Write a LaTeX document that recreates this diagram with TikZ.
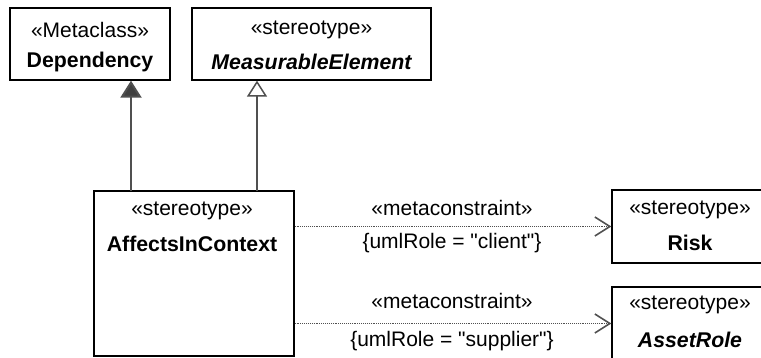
\documentclass[tikz,border=0pt]{standalone}
\usepackage{fontspec}
\setmainfont{Liberation Sans}[Ligatures=TeXOff]
\usetikzlibrary{arrows.meta}
\definecolor{conn}{HTML}{505050}
\definecolor{connfill}{HTML}{404040}
\tikzset{
  umlbox/.style={draw=black, line width=1.3pt, fill=white, rectangle, inner sep=0pt},
  txt/.style={font=\fontsize{21}{25}\selectfont, inner sep=0pt, anchor=center},
  txtb/.style={font=\fontsize{21.3}{25}\selectfont\bfseries, inner sep=0pt, anchor=center},
  txtbi/.style={font=\fontsize{21.3}{25}\selectfont\bfseries\itshape, inner sep=0pt, anchor=center},
  gen/.style={draw=conn, line width=2pt},
  dep/.style={draw=conn, line width=0.9pt, densely dotted},
}
\begin{document}
\begin{tikzpicture}[x=1pt,y=-1pt]
\useasboundingbox (0,0) rectangle (761,358);
\clip (0,0) rectangle (761,358);
% boxes
\node[umlbox, minimum width=160pt, minimum height=72pt] (depb) at (90,44) {};
\node[umlbox, minimum width=239pt, minimum height=72pt] (meas) at (311.5,44) {};
\node[umlbox, minimum width=200pt, minimum height=165pt] (aic) at (194,273.5) {};
\node[umlbox, minimum width=170pt, minimum height=73pt] (risk) at (697,226.5) {};
\node[umlbox, minimum width=170pt, minimum height=73pt] (asset) at (697,323.5) {};
% texts
\node[txt] (t1) at (90,30) {«Metaclass»};
\node[txtb] (t2) at (90,62) {Dependency};
\node[txt] (t3) at (311.5,30) {«stereotype»};
\node[txtbi] (t4) at (311.5,62) {MeasurableElement};
\node[txt] (t5) at (192,211) {«stereotype»};
\node[txtb] (t6) at (192,244) {AffectsInContext};
\node[txt] (t7) at (690,210) {«stereotype»};
\node[txtb] (t8) at (690,243) {Risk};
\node[txt] (t9) at (690,305) {«stereotype»};
\node[txtbi] (t10) at (690,340) {AssetRole};
% connector labels
\node[txt] (l1) at (452,208) {«metaconstraint»};
\node[txt] (l2) at (452,243) {\{umlRole = "client"\}};
\node[txt] (l3) at (452,301) {«metaconstraint»};
\node[txt] (l4) at (452,341) {\{umlRole = "supplier"\}};
% generalizations
\coordinate (g1) at (131,191);
\coordinate (g2) at (257,191);
\draw[gen, -{Triangle[length=17pt,width=21pt,fill=connfill]}] (g1) -- (g1 |- depb.south);
\draw[gen, -{Triangle[length=16pt,width=20pt,open,fill=white,line width=1.5pt]}] (g2) -- (g2 |- meas.south);
% dependencies
\draw[dep, -{Straight Barb[length=15pt,width=19pt,line width=1.6pt]}] (aic.east |- risk.west) -- (risk.west);
\draw[dep, -{Straight Barb[length=15pt,width=19pt,line width=1.6pt]}] (aic.east |- asset.west) -- (asset.west);
\end{tikzpicture}
\end{document}
